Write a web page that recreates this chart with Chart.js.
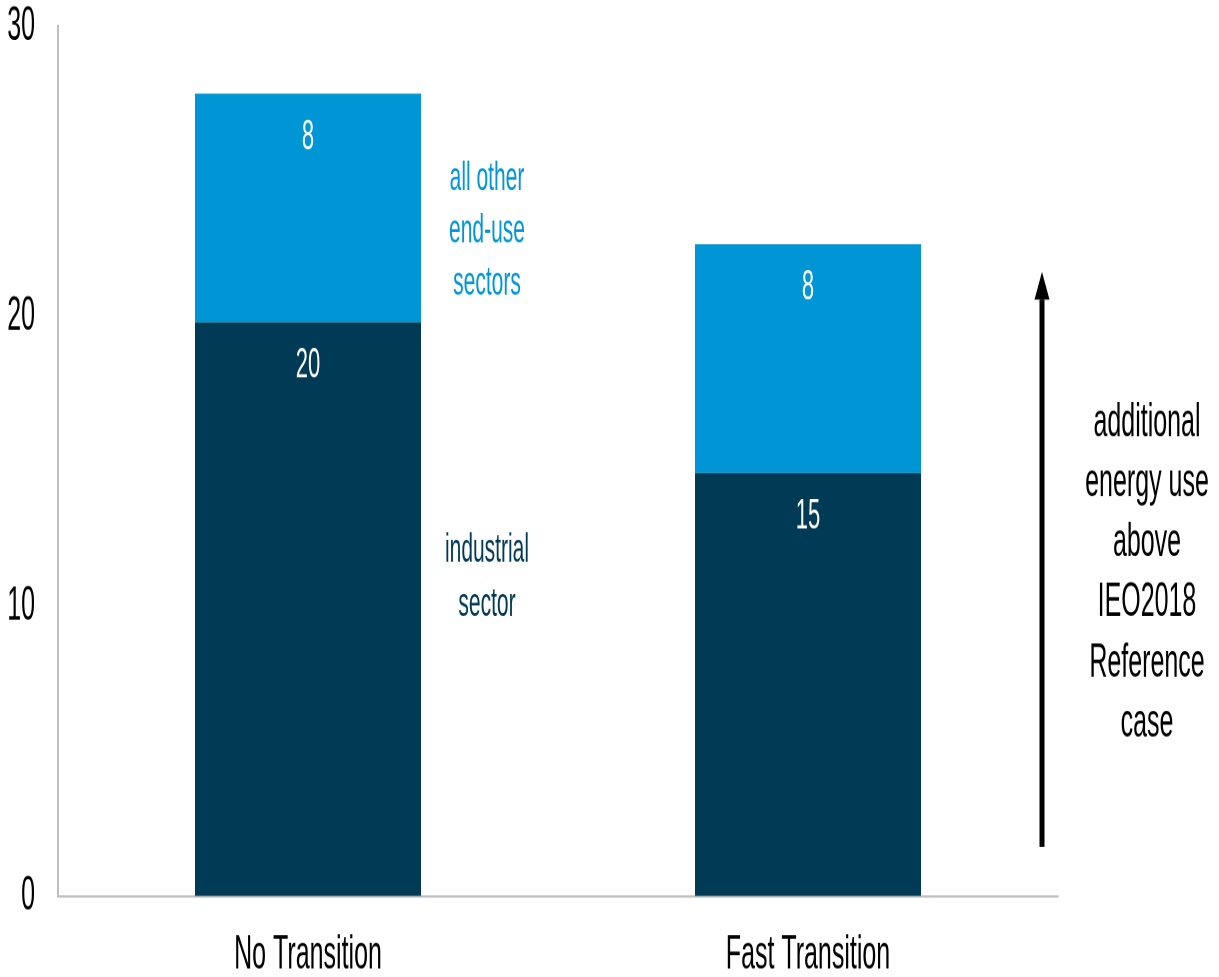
<!DOCTYPE html>
<html lang="en">
<head>
<meta charset="UTF-8">
<title>Industrial vs other end-use energy</title>
<script src="https://cdn.jsdelivr.net/npm/chart.js"></script>
<style>
  html { overflow: hidden; }
  body { margin: 0; padding: 0; background: #fff; height: 977px; }
  /* the original graphic is stretched vertically, so draw at half height and stretch */
  .wrap { width: 1219px; height: 514px; transform: scaleY(1.9008); transform-origin: 0 0; }
</style>
</head>
<body>
<div class="wrap"><canvas id="chart"></canvas></div>
<script>
// data
const categories = ['No Transition', 'Fast Transition'];
const industrial = [19.8, 14.6];
const otherSectors = [7.9, 7.9];
const yTicks = [0, 10, 20, 30];
const otherLabel = ['all other', 'end-use', 'sectors'];
const industrialLabel = ['industrial', 'sector'];
const arrowLabel = ['additional', 'energy use', 'above', 'IEO2018', 'Reference', 'case'];

const DARK = '#003A54';
const LIGHT = '#0096D6';
const FONT = '"Liberation Sans", Arial, sans-serif';

// labels, annotations and the arrow
const annotations = {
  id: 'annotations',
  afterDatasetsDraw(chart) {
    const ctx = chart.ctx;
    const x = chart.scales.x;
    const y = chart.scales.y;
    ctx.save();
    ctx.textAlign = 'center';
    ctx.textBaseline = 'middle';

    // segment values near top of each segment
    ctx.fillStyle = '#fff';
    ctx.font = '22px ' + FONT;
    chart.data.datasets.forEach((ds, i) => {
      chart.getDatasetMeta(i).data.forEach((bar, j) => {
        ctx.fillText(String(Math.round(ds.data[j])), bar.x, bar.y + 23);
      });
    });

    function block(lines, xv, yv, step, color, size) {
      ctx.fillStyle = color;
      ctx.font = size + 'px ' + FONT;
      const px = x.getPixelForValue(xv);
      const py = y.getPixelForValue(yv);
      lines.forEach((t, k) => {
        ctx.fillText(t, px, py + (k - (lines.length - 1) / 2) * step);
      });
    }
    block(otherLabel, 0.358, 22.95, 27.5, LIGHT, 21);
    block(industrialLabel, 0.358, 11.0, 28.5, DARK, 21);
    block(arrowLabel, 1.678, 11.15, 31.6, '#000', 25);

    // arrow
    const ax = x.getPixelForValue(1.468);
    const yBottom = y.getPixelForValue(1.7);
    const yTip = y.getPixelForValue(21.55);
    const head = 14.7;
    ctx.strokeStyle = '#000';
    ctx.fillStyle = '#000';
    ctx.lineWidth = 5;
    ctx.beginPath();
    ctx.moveTo(ax, yBottom);
    ctx.lineTo(ax, yTip + head);
    ctx.stroke();
    ctx.beginPath();
    ctx.moveTo(ax, yTip);
    ctx.lineTo(ax - 7.5, yTip + head);
    ctx.lineTo(ax + 7.5, yTip + head);
    ctx.closePath();
    ctx.fill();
    ctx.restore();
  }
};

new Chart(document.getElementById('chart').getContext('2d'), {
  type: 'bar',
  data: {
    labels: categories,
    datasets: [
      { label: 'industrial sector', data: industrial, backgroundColor: DARK },
      { label: 'all other end-use sectors', data: otherSectors, backgroundColor: LIGHT }
    ]
  },
  options: {
    responsive: true,
    maintainAspectRatio: false,
    animation: false,
    devicePixelRatio: 2,
    categoryPercentage: 1,
    barPercentage: 0.452,
    layout: { padding: { left: 0, right: 161, top: 14.2, bottom: 0 } },
    plugins: { legend: { display: false }, tooltip: { enabled: false } },
    scales: {
      x: {
        stacked: true,
        grid: { display: false, drawTicks: false },
        border: { color: '#BFBFBF', width: 1.2 },
        ticks: { color: '#000', font: { family: FONT, size: 25 }, padding: 16 },
        afterFit(s) { s.height = 42.6; s.paddingLeft = 0; s.paddingRight = 0; }
      },
      y: {
        stacked: true,
        min: 0,
        max: 30,
        afterBuildTicks(s) { s.ticks = yTicks.map(v => ({ value: v })); },
        grid: { display: false, drawTicks: false },
        border: { color: '#BFBFBF', width: 2 },
        ticks: { color: '#000', font: { family: FONT, size: 25 }, padding: 23 },
        afterFit(s) { s.width = 58; s.paddingTop = 0; s.paddingBottom = 0; }
      }
    }
  },
  plugins: [annotations]
});
</script>
</body>
</html>
